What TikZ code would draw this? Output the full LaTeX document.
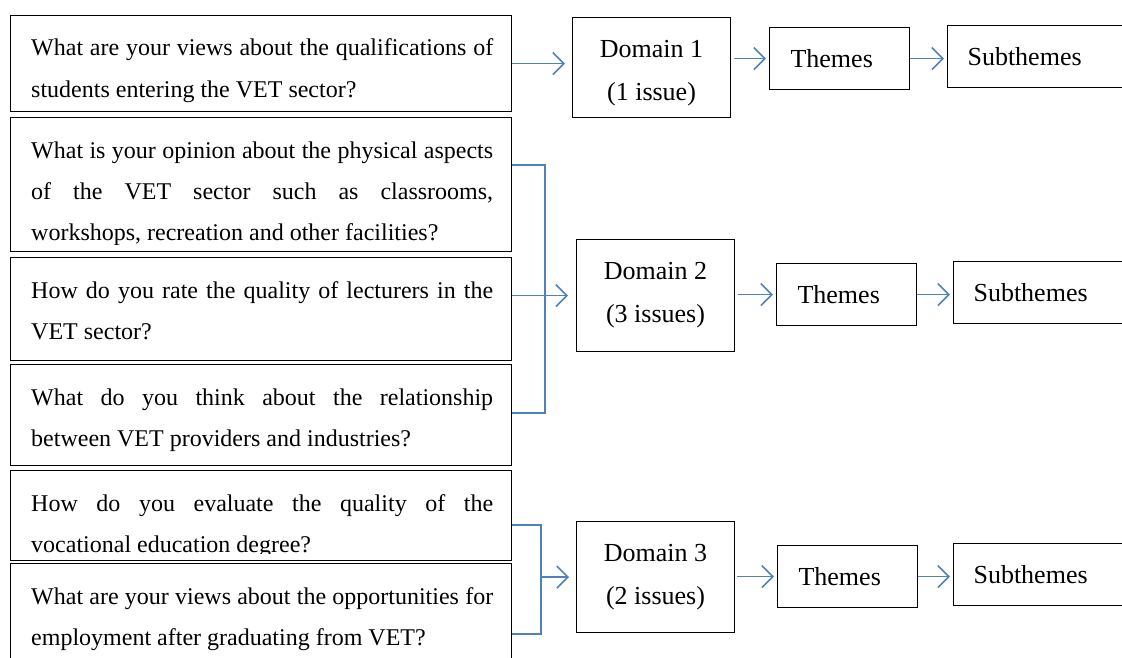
\documentclass[tikz,border=0pt]{standalone}
\usepackage{fontspec}
\setmainfont{Liberation Serif}
\usetikzlibrary{arrows.meta}
\definecolor{linkblue}{RGB}{79,129,189}
\tikzset{
  qbox/.style={draw=black, line width=1.1pt, anchor=north west, inner sep=0pt,
    minimum width=501pt},
  qtext/.style={anchor=base west, inner sep=0pt, font=\fontsize{24}{41.5}\selectfont},
  dtext/.style={inner sep=0pt, align=center, font=\fontsize{26}{43}\selectfont},
  dbox/.style={draw=black, line width=1.1pt, anchor=north west, inner sep=0pt,
    minimum width=158pt, minimum height=112pt, dtext},
  tbox/.style={draw=black, line width=1.1pt, anchor=north west, inner ysep=0pt,
    inner xsep=21pt, text width=98pt, minimum height=62pt, align=left,
    font=\fontsize{26}{30}\selectfont},
  sbox/.style={tbox, inner xsep=20pt, text width=180pt},
  link/.style={draw=linkblue, line width=1.6pt,
    -{Straight Barb[length=11pt,width=22pt,line width=1.6pt]}},
  bracket/.style={draw=linkblue, line width=1.6pt},
}
\newcommand{\qpar}[1]{\parbox[t]{462pt}{\hyphenpenalty=10000 #1}}
\begin{document}
\begin{tikzpicture}[x=1pt,y=-1pt]
\clip (0,0) rectangle (1122,658);
\fill[white] (0,0) rectangle (1122,658);

% question boxes
\node[qbox, minimum height=96pt]  (q1) at (10,15)  {};
\node[qbox, minimum height=134pt] (q2) at (10,117) {};
\node[qbox, minimum height=103pt] (q3) at (10,257) {};
\node[qbox, minimum height=101pt] (q4) at (10,364) {};
\node[qbox, minimum height=90pt]  (q5) at (10,470) {};
\node[qbox, minimum height=110pt] (q6) at (10,563) {};

% question texts, cut off a little above the lower border of their boxes
\foreach \b/\t in {
  q1/{What are your views about the qualifications of\linebreak students entering the VET sector?},
  q2/{What is your opinion about the physical aspects\linebreak of the VET sector such as classrooms,\linebreak workshops, recreation and other facilities?},
  q3/{How do you rate the quality of lecturers in the\linebreak VET sector?},
  q4/{What do you think about the relationship\linebreak between VET providers and industries?},
  q5/{How do you evaluate the quality of the\linebreak vocational education degree?},
  q6/{What are your views about the opportunities for\linebreak employment after graduating from VET?}}{
  \begin{scope}
    \clip (\b.north west) rectangle ([yshift=8pt]\b.south east);
    \node[qtext] (\b txt) at ([xshift=21pt,yshift=-41pt]\b.north west) {\qpar{\t}};
  \end{scope}
}

% domains, themes, subthemes
\node[dbox, minimum height=100pt] (d1) at (572,17) {};
\node[dtext] (d1txt) at ([yshift=-6pt]d1.center) {Domain 1\\(1 issue)};
\node[dbox] (d2) at (576,239) {Domain 2\\(3 issues)};
\node[dbox, minimum height=111pt] (d3) at (576,521) {Domain 3\\(2 issues)};

\node[tbox] (th1) at (769,27)  {Themes};
\node[tbox] (th2) at (776,263) {Themes};
\node[tbox] (th3) at (777,545) {Themes};

\node[sbox] (s1) at (947,25)  {Subthemes};
\node[sbox] (s2) at (953,261) {Subthemes};
\node[sbox] (s3) at (953,543) {Subthemes};

% first domain
\draw[link, shorten >=7pt] (q1.east) -- (q1.east -| d1.west);

% brackets gathering the questions of domains 2 and 3
\coordinate (b2top) at (545,165);
\coordinate (b2bot) at (545,413);
\draw[bracket] (q2.east |- b2top) -- (b2top) -- (b2bot) -- (q4.east |- b2bot);
\draw[link, shorten >=8pt] (q3.east |- d2.west) -- (d2.west);

\coordinate (b3top) at (541,525);
\coordinate (b3bot) at (541,634);
\draw[bracket] (q5.east |- b3top) -- (b3top) -- (b3bot) -- (q6.east |- b3bot);
\draw[link, shorten >=7pt] (b3top |- d3.west) -- (d3.west);

% domains to themes to subthemes
\draw[link, shorten <=3pt, shorten >=3pt] (d1.east |- th1.west) -- (th1.west);
\draw[link, shorten <=3pt, shorten >=3pt] (d2.east |- th2.west) -- (th2.west);
\draw[link, shorten <=2pt, shorten >=3pt] (d3.east |- th3.west) -- (th3.west);
\draw[link, shorten >=3pt] (th1.east) -- (th1.east -| s1.west);
\draw[link, shorten >=3pt] (th2.east) -- (th2.east -| s2.west);
\draw[link, shorten >=3pt] (th3.east) -- (th3.east -| s3.west);
\end{tikzpicture}
\end{document}
